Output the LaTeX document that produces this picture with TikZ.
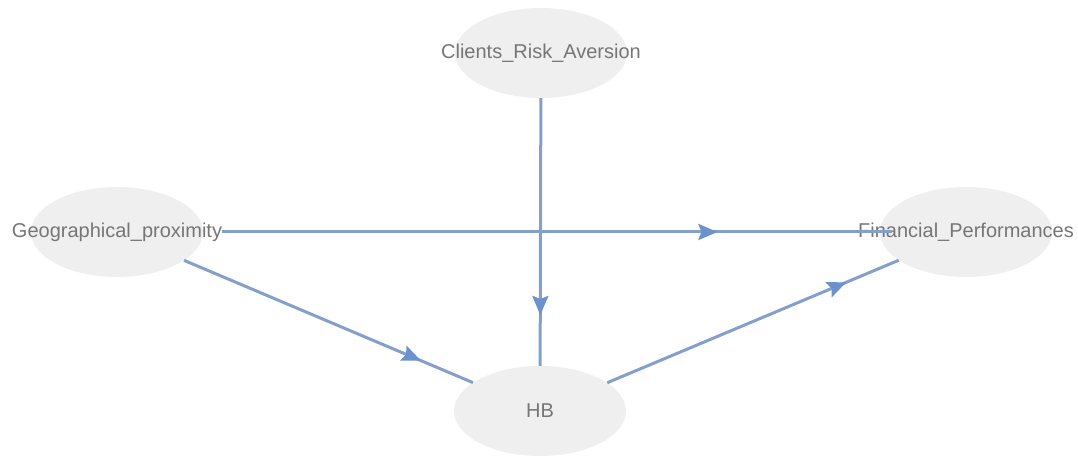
\documentclass[tikz,border=0pt]{standalone}
\usepackage{fontspec}
\setmainfont{Liberation Sans}
\usetikzlibrary{shapes.geometric,arrows.meta,decorations.markings}
\definecolor{nodefill}{RGB}{239,239,239}
\definecolor{labelgray}{RGB}{118,118,118}
\definecolor{edgeblue}{RGB}{132,160,202}
\definecolor{tipblue}{RGB}{108,146,206}
\begin{document}
\begin{tikzpicture}[x=1bp,y=1bp,
    var/.style={ellipse,fill=nodefill,minimum width=172bp,minimum height=90bp,
      inner sep=0pt,text=labelgray,font=\fontsize{20bp}{24bp}\selectfont},
    link/.style={draw=edgeblue,line width=3bp,postaction={decorate,
      decoration={markings,mark=at position #1 with
        {\arrow{Stealth[length=19bp,width=16bp,inset=3bp,color=tipblue]}}}}}]
      \useasboundingbox (0,0) rectangle (1078,458);
      \node[var] (risk) at (541,405) {\makebox[0pt]{Clients\_Risk\_Aversion}};
      \node[var] (geo) at (117,226) {\makebox[0pt]{Geographical\_proximity}};
      \node[var] (fin) at (966,226) {\makebox[0pt]{Financial\_Performances}};
      \node[var] (hb) at (540,47) {\makebox[0pt]{HB}};
      \begin{scope}[-]
        \draw[link=0.76,shorten <=19bp,shorten >=-12bp] (geo) to (fin);
        \draw[link=0.81] (risk) to (hb);
        \draw[link=0.82] (geo) to (hb);
        \draw[link=0.82] (hb) to (fin);
      \end{scope}
    \end{tikzpicture}
\end{document}
